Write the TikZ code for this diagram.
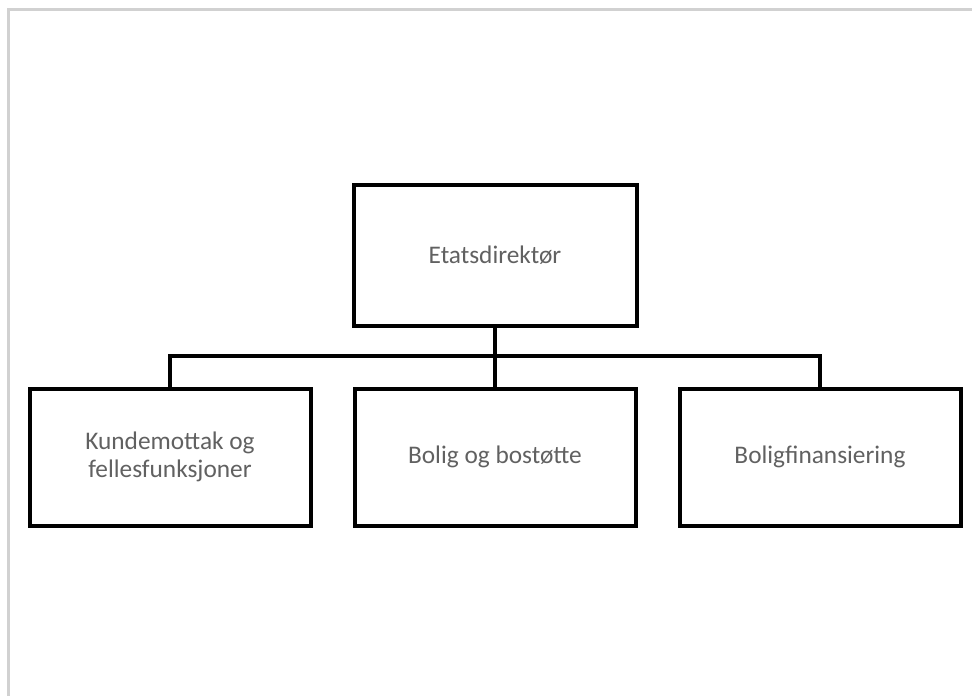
\documentclass[tikz,border=0pt]{standalone}
\usepackage{fontspec}
\setmainfont{Carlito}
\begin{document}
\begin{tikzpicture}[x=0.75pt,y=-0.75pt,
  orgbox/.style={draw=black,line width=3pt,fill=white,minimum width=281*0.75pt,minimum height=137*0.75pt,
    inner sep=0pt,align=center,text=black!62,font=\fontsize{19}{21.5}\selectfont},
  link/.style={line width=2.8pt,draw=black},
  frame/.style={line width=1.6pt,draw=black!18}]
\useasboundingbox (0,0) rectangle (972,696);
\draw[frame] (8.5,696) -- (8.5,9.5) -- (972,9.5);
\node[orgbox,minimum width=283*0.75pt,minimum height=141*0.75pt] (top) at (495,255.5) {Etatsdirektør};
\node[orgbox] (left) at (170,457) {Kundemottak og\\fellesfunksjoner};
\node[orgbox] (mid) at (495,457) {Bolig og bostøtte};
\node[orgbox] (right) at (820,457) {Boligfinansiering};
\coordinate (bus) at (495,356);
\draw[link] (top.south) -- (mid.north);
\draw[link] (left.north) |- (bus) -| (right.north);
\end{tikzpicture}
\end{document}
